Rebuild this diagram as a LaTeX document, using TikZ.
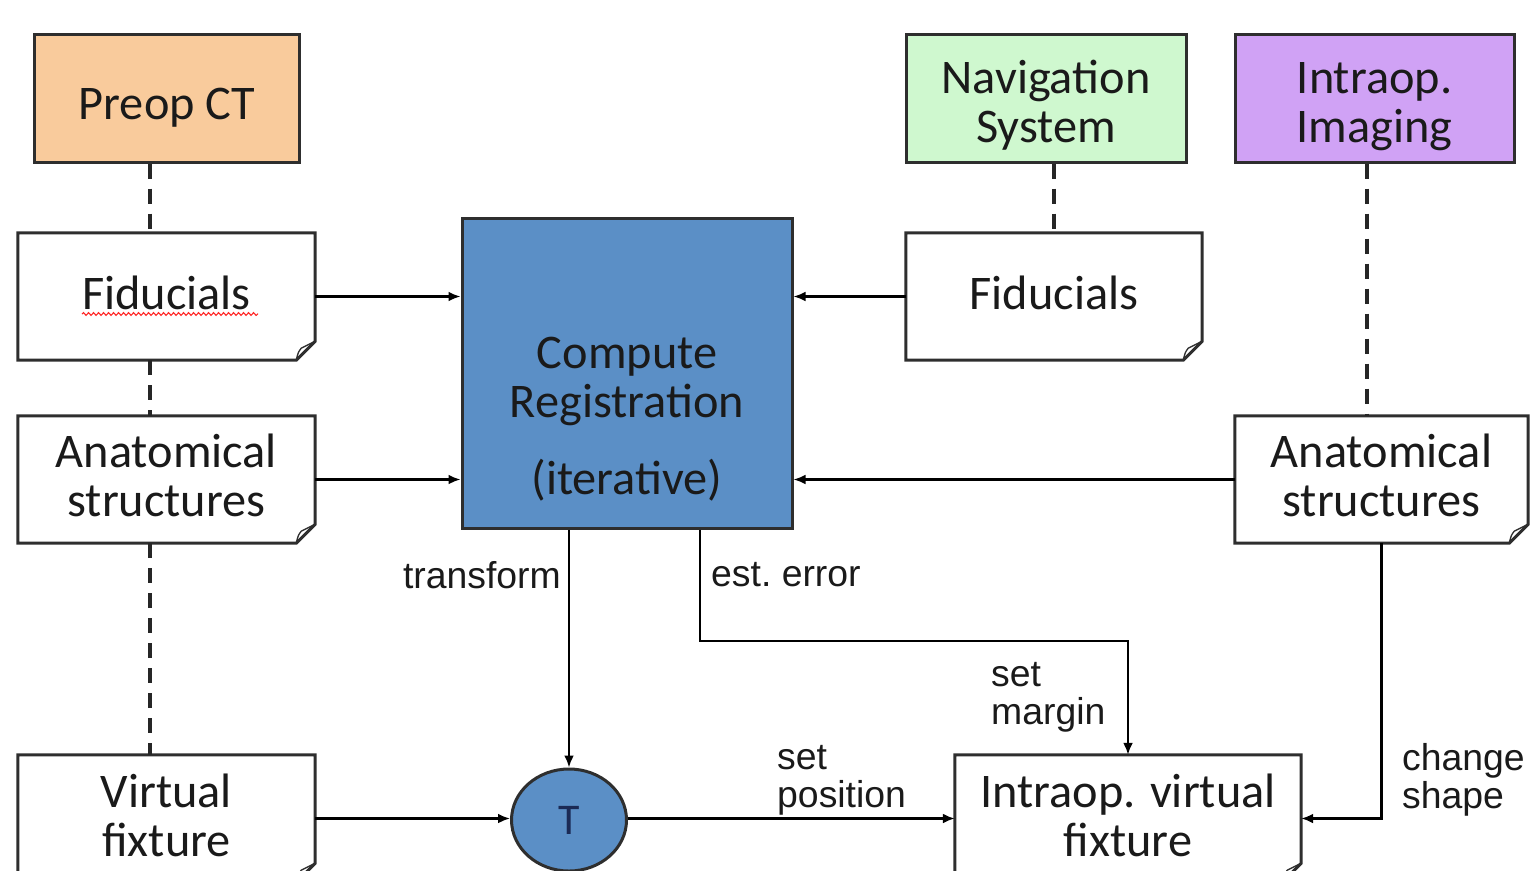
\documentclass[tikz,border=0pt]{standalone}
\usepackage{fontspec}
\setmainfont{Carlito}
\newfontfamily\labfont{Liberation Sans}
\usetikzlibrary{arrows.meta,shapes.geometric,decorations.pathmorphing,calc}
\definecolor{peach}{HTML}{F9CB9C}
\definecolor{navgreen}{HTML}{CFF8CF}
\definecolor{lav}{HTML}{D0A2F5}
\definecolor{regblue}{HTML}{5B8FC6}
\definecolor{edge}{HTML}{2E2E2E}
\definecolor{txt}{HTML}{1A1A1A}
\definecolor{navy}{HTML}{1B2A55}
\newcommand\vmove[2]{\raisebox{#1}[\height][\depth]{\begin{tabular}{@{}c@{}}#2\end{tabular}}}
\begin{document}
\begin{tikzpicture}[x=1bp,y=-1bp,
  box/.style={rectangle, inner sep=0pt, align=center, font=\fontsize{48.5}{49}\selectfont, text=txt, minimum height=127bp},
  solidbox/.style={box, draw=edge, line width=3bp},
  docbox/.style={box},
  outline/.style={draw=edge, line width=3bp, line join=miter},
  fold/.style={draw=edge, line width=1.3bp},
  arr/.style={draw=black, line width=2.8bp, -{Latex[length=12bp,width=10bp]}},
  dashline/.style={draw=black!85, line width=3.6bp, dash pattern=on 15bp off 10bp},
  lbl/.style={font=\labfont\fontsize{37.5}{38.5}\selectfont, align=left, inner sep=0pt, text=txt}]
\useasboundingbox (0,0) rectangle (1530,870);
\clip (0,0) rectangle (1530,870);

% top boxes
\node[solidbox, fill=peach, minimum width=264bp] (ct) at (167,98.5) {\vmove{-11bp}{Preop CT}};
\node[solidbox, fill=navgreen, minimum width=280bp] (nav) at (1046,98.5) {\vmove{-10bp}{Navigation\\System}};
\node[solidbox, fill=lav, minimum width=279bp] (img) at (1374.5,98.5) {\vmove{-10bp}{Intraop.\\Imaging}};

% document boxes
\node[docbox, minimum width=297bp] (fidL) at (166.5,296.5) {\vmove{-3.5bp}{Fiducials}};
\node[docbox, minimum width=297bp] (anaL) at (166.5,479.5) {\vmove{-3bp}{Anatomical\\structures}};
\node[docbox, minimum width=297bp] (vf) at (166.5,818.5) {\vmove{-3.5bp}{Virtual\\fixture}};
\node[docbox, minimum width=296bp] (fidR) at (1054,296.5) {\vmove{-3.5bp}{Fiducials}};
\node[docbox, minimum width=293bp] (anaR) at (1381.5,479.5) {\vmove{-3bp}{Anatomical\\structures}};
\node[docbox, minimum width=346bp] (ivf) at (1128,818.5) {\vmove{-3.5bp}{Intraop. virtual\\fixture}};

\foreach \n in {fidL,anaL,vf,fidR,anaR,ivf} {
  \draw[outline] (\n.north west) -- (\n.north east) -- ([yshift=19bp]\n.south east)
     -- ([xshift=-19bp]\n.south east) -- (\n.south west) -- cycle;
  \draw[fold] ([xshift=-19bp]\n.south east) .. controls ([xshift=-17bp,yshift=8bp]\n.south east) .. ([xshift=-14bp,yshift=12bp]\n.south east)
     .. controls ([xshift=-8bp,yshift=15bp]\n.south east) .. ([yshift=19bp]\n.south east);
}

% spell-check underline
\draw[red!85, line width=1.1bp, decorate, decoration={snake, amplitude=1.4bp, segment length=5bp}] (82,314) -- (258,314);

% registration block
\node[solidbox, fill=regblue, minimum width=330bp, minimum height=310bp] (reg) at (627,373) {};
\node[box, minimum height=0pt] (regtxt) at (627,419) {Compute\\Registration\\[28bp](iterative)};

% T
\node[ellipse, draw=edge, line width=3bp, fill=regblue, minimum width=115bp, minimum height=102bp,
      inner sep=0pt, font=\fontsize{44}{46}\selectfont, text=navy] (T) at (569,820) {T};

% dashed links
\coordinate (dL) at (150,0);
\coordinate (dI) at (1367,0);
\draw[dashline] (ct.south -| dL) -- (fidL.north -| dL);
\draw[dashline] (fidL.south -| dL) -- (anaL.north -| dL);
\draw[dashline] (anaL.south -| dL) -- (vf.north -| dL);
\draw[dashline] (nav.south -| fidR.north) -- (fidR.north);
\draw[dashline] (img.south -| dI) -- (anaR.north -| dI);

% arrows into registration
\draw[arr] (fidL.east) -- (reg.west |- fidL.east);
\draw[arr] (anaL.east) -- (reg.west |- anaL.east);
\draw[arr] (fidR.west) -- (reg.east |- fidR.west);
\draw[arr] (anaR.west) -- (reg.east |- anaR.west);

% outputs
\draw[arr] (reg.south -| T.north) -- (T.north);
\coordinate (ee) at (700,641);
\draw[arr] (reg.south -| ee) -- (ee) -- (ee -| ivf.north) -- (ivf.north);
\draw[arr] (vf.east) -- (vf.east -| T.west);
\draw[arr] (T.east |- ivf.west) -- (ivf.west);
\draw[arr] (anaR.south) -- (anaR.south |- ivf.east) -- (ivf.east);

% labels
\node[lbl, anchor=east] (ltr) at (561,575) {transform};
\node[lbl, anchor=west] (lee) at (711,575) {est.\ error};
\node[lbl, anchor=west] (lsm) at (991,697) {set\\margin};
\node[lbl, anchor=west] (lsp) at (777,780) {set\\position};
\node[lbl, anchor=west] (lcs) at (1402,780) {change\\shape};
\end{tikzpicture}
\end{document}
